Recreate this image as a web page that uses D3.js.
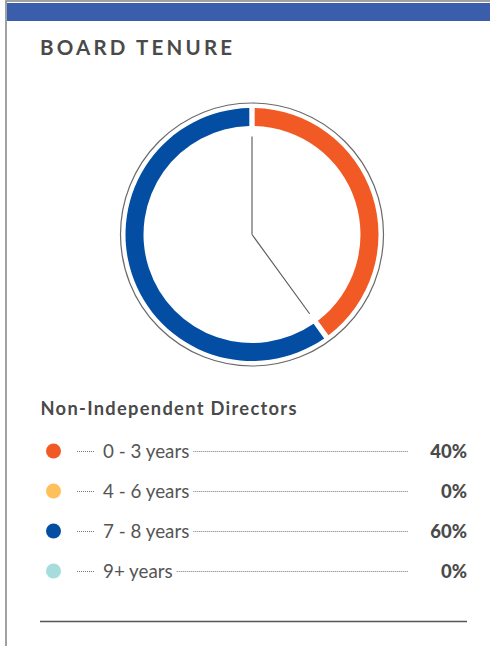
<!DOCTYPE html>
<html>
<head>
<meta charset="utf-8">
<script src="https://cdn.jsdelivr.net/npm/d3@7"></script>
<style>
html,body{margin:0;padding:0;background:#fff;}
svg{display:block;}
</style>
</head>
<body>
<svg id="chart" width="490" height="646"></svg>
<script>
const title = "BOARD TENURE";
const legendTitle = "Non-Independent Directors";
const categories = ["0 - 3 years", "4 - 6 years", "7 - 8 years", "9+ years"];
const values = [40, 0, 60, 0];
const colors = ["#F15A24", "#FDC05A", "#034EA2", "#A6DCDC"];

const svg = d3.select("#chart");

function fitWidth(sel, target) {
  const node = sel.node();
  const w = node.getComputedTextLength();
  const n = node.textContent.length;
  const ls = parseFloat(sel.attr("letter-spacing") || 0);
  const base = w - ls * n;
  sel.attr("letter-spacing", ((target - base) / (n - 1)).toFixed(2));
}

// frame
svg.append("rect").attr("x", 6).attr("y", 1).attr("width", 490).attr("height", 700)
  .attr("fill", "none").attr("stroke", "#8a8a8a").attr("stroke-width", 1.6);
svg.append("rect").attr("x", 7).attr("y", 3).attr("width", 483).attr("height", 18)
  .attr("fill", "#3A5EAB");

const t = svg.append("text").attr("x", 40).attr("y", 55)
  .attr("font-family", "Lato, sans-serif").attr("font-weight", 700)
  .attr("font-size", 20.5).attr("fill", "#4a4a4a")
  .text(title);
fitWidth(t, 192);

// donut
const cx = 252, cy = 234.5;
const g = svg.append("g").attr("transform", `translate(${cx},${cy})`);
g.append("circle").attr("r", 131.5).attr("fill", "none")
  .attr("stroke", "#6a6a6a").attr("stroke-width", 1.2);

const data = categories.map((c, i) => ({cat: c, value: values[i], color: colors[i]}));
const pie = d3.pie().value(d => d.value).sort(null);
const arcs = pie(data);
const arc = d3.arc().innerRadius(108.5).outerRadius(126.5).padAngle(0.046).padRadius(117);
g.selectAll("path.slice").data(arcs.filter(a => a.data.value > 0)).join("path")
  .attr("class", "slice").attr("d", arc).attr("fill", d => d.data.color);

// hands at slice boundaries
const handLen = 98;
g.selectAll("line.hand").data(arcs.filter(a => a.data.value > 0)).join("line")
  .attr("class", "hand")
  .attr("x1", 0).attr("y1", 0)
  .attr("x2", d => handLen * Math.sin(d.startAngle))
  .attr("y2", d => -handLen * Math.cos(d.startAngle))
  .attr("stroke", "#555").attr("stroke-width", 1.1);

// legend
const lt = svg.append("text").attr("x", 40.5).attr("y", 415)
  .attr("font-family", "Lato, sans-serif").attr("font-weight", 700)
  .attr("font-size", 18.3).attr("fill", "#4a4a4a")
  .text(legendTitle);
fitWidth(lt, 256);

const rowY = d3.scalePoint().domain(categories).range([451, 571]);
const rows = svg.selectAll("g.row").data(data).join("g").attr("class", "row")
  .attr("transform", d => `translate(0,${rowY(d.cat)})`);
rows.append("circle").attr("cx", 53.5).attr("cy", 0).attr("r", 7.5).attr("fill", d => d.color);
rows.append("line").attr("x1", 77).attr("x2", 94).attr("y1", 0.5).attr("y2", 0.5)
  .attr("stroke", "#777").attr("stroke-width", 1).attr("stroke-dasharray", "1,1");
const labels = rows.append("text").attr("x", 103).attr("y", 6.8)
  .attr("font-family", "Lato, sans-serif").attr("font-weight", 400)
  .attr("font-size", 18.8).attr("fill", "#555")
  .text(d => d.cat);
labels.each(function(d) {
  const w = this.getComputedTextLength();
  d3.select(this.parentNode).append("line")
    .attr("x1", 103 + w + 4).attr("x2", 408).attr("y1", 0.5).attr("y2", 0.5)
    .attr("stroke", "#777").attr("stroke-width", 1).attr("stroke-dasharray", "1,1");
});
rows.append("text").attr("x", 467).attr("y", 6.8).attr("text-anchor", "end")
  .attr("font-family", "Lato, sans-serif").attr("font-weight", 900)
  .attr("font-size", 18.5).attr("fill", "#4a4a4a")
  .text(d => d.value + "%");

svg.append("line").attr("x1", 40).attr("x2", 467).attr("y1", 621.5).attr("y2", 621.5)
  .attr("stroke", "#555").attr("stroke-width", 1.6);
</script>
</body>
</html>
